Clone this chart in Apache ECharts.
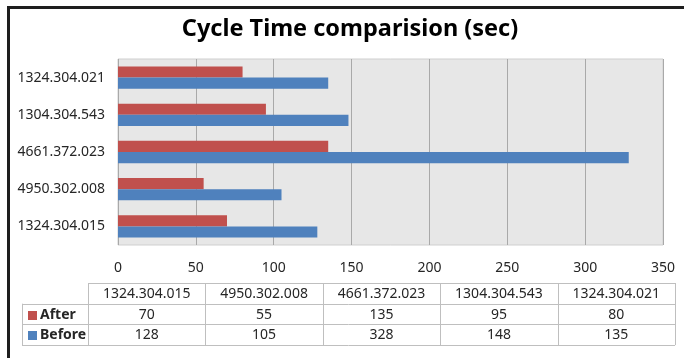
<!DOCTYPE html>
<html>
<head>
<meta charset="utf-8">
<script src="https://cdn.jsdelivr.net/npm/echarts@6/dist/echarts.min.js"></script>
<style>
  html, body { margin: 0; padding: 0; background: #ffffff; }
  #chart { width: 684px; height: 358px; }
</style>
</head>
<body>
<div id="chart"></div>
<script>
// Part numbers, listed bottom-to-top on the category axis (same order as the table columns)
const categories = ['1324.304.015', '4950.302.008', '4661.372.023', '1304.304.543', '1324.304.021'];
const afterValues = [70, 55, 135, 95, 80];
const beforeValues = [128, 105, 328, 148, 135];
const seriesNames = ['After', 'Before'];
const seriesColors = ['#c0504d', '#4f81bd'];
const titleText = 'Cycle Time comparision (sec)';

const FONT = 'Noto Sans, Liberation Sans, sans-serif';
const TEXT_COLOR = '#262626';

// Data table underneath the plot
const tbl = { keyLeft: 22, left: 88, right: 675, top: 283, rowH: 20.7 };
const tableRows = [afterValues, beforeValues];

function buildTable() {
  const els = [];
  const n = categories.length;
  const colW = (tbl.right - tbl.left) / n;
  const lineStyle = { stroke: '#bfbfbf', lineWidth: 1 };
  const bottom = tbl.top + tbl.rowH * (tableRows.length + 1);
  const line = (x1, y1, x2, y2) => els.push({
    type: 'line', silent: true,
    shape: { x1: x1, y1: y1, x2: x2, y2: y2 }, style: lineStyle
  });
  const text = (x, y, s, align, weight) => els.push({
    type: 'text', silent: true, x: x, y: y,
    style: { text: s, fill: TEXT_COLOR, font: (weight || 'normal') + ' 14px ' + FONT,
             align: align || 'center', verticalAlign: 'middle' }
  });

  // horizontal rules
  line(tbl.left, tbl.top + 0.5, tbl.right, tbl.top + 0.5);
  for (let r = 1; r <= tableRows.length; r++) {
    const y = Math.round(tbl.top + tbl.rowH * r) + 0.5;
    line(tbl.keyLeft, y, tbl.right, y);
  }
  line(tbl.keyLeft, Math.round(bottom) + 0.5, tbl.right, Math.round(bottom) + 0.5);
  // vertical rules
  line(tbl.keyLeft + 0.5, tbl.top + tbl.rowH, tbl.keyLeft + 0.5, bottom);
  for (let c = 0; c <= n; c++) {
    const x = Math.round(tbl.left + colW * c) + 0.5;
    line(x, tbl.top, x, bottom);
  }
  // header
  categories.forEach((cat, c) => text(tbl.left + colW * (c + 0.5), tbl.top + tbl.rowH / 2 + 0.5, cat));
  // rows with legend keys
  tableRows.forEach((vals, r) => {
    const cy = tbl.top + tbl.rowH * (r + 1.5) + 0.5;
    els.push({
      type: 'rect', silent: true,
      shape: { x: 28, y: Math.round(cy) - 4, width: 9, height: 9 },
      style: { fill: seriesColors[r] }
    });
    text(40, cy, seriesNames[r], 'left', 'bold');
    vals.forEach((v, c) => text(tbl.left + colW * (c + 0.5), cy, String(v)));
  });
  return els;
}

// Dark frame along the top and left edges
const frame = [
  { type: 'line', silent: true, shape: { x1: 7, y1: 7.5, x2: 684, y2: 7.5 }, style: { stroke: '#1e1e1e', lineWidth: 3 } },
  { type: 'line', silent: true, shape: { x1: 8.5, y1: 6, x2: 8.5, y2: 358 }, style: { stroke: '#1e1e1e', lineWidth: 3 } }
];

const chart = echarts.init(document.getElementById('chart'), null, { renderer: 'canvas' });
chart.setOption({
  animation: false,
  backgroundColor: '#ffffff',
  title: {
    text: titleText,
    left: 345, top: 12, textAlign: 'center',
    textStyle: { fontFamily: FONT, fontWeight: 'bold', fontSize: 23.5, color: '#000000' }
  },
  grid: {
    left: 118, right: 21, top: 59, bottom: 113,
    show: true, backgroundColor: '#e7e7e7', borderColor: '#cfcfcf', borderWidth: 1
  },
  xAxis: {
    type: 'value', min: 0, max: 350, interval: 50,
    axisLine: { show: false }, axisTick: { show: false },
    splitLine: { lineStyle: { color: '#a9a9a9', width: 1 } },
    axisLabel: { margin: 16, color: TEXT_COLOR, fontSize: 14, fontFamily: FONT }
  },
  yAxis: {
    type: 'category', data: categories,
    axisLine: { show: false }, axisTick: { show: false },
    axisLabel: { margin: 13, color: TEXT_COLOR, fontSize: 14, fontFamily: FONT }
  },
  series: [
    { name: seriesNames[0], type: 'bar', data: afterValues, itemStyle: { color: seriesColors[0] },
      barGap: '0%', barCategoryGap: '40%' },
    { name: seriesNames[1], type: 'bar', data: beforeValues, itemStyle: { color: seriesColors[1] },
      barGap: '0%', barCategoryGap: '40%' }
  ],
  graphic: frame.concat(buildTable())
});
</script>
</body>
</html>
